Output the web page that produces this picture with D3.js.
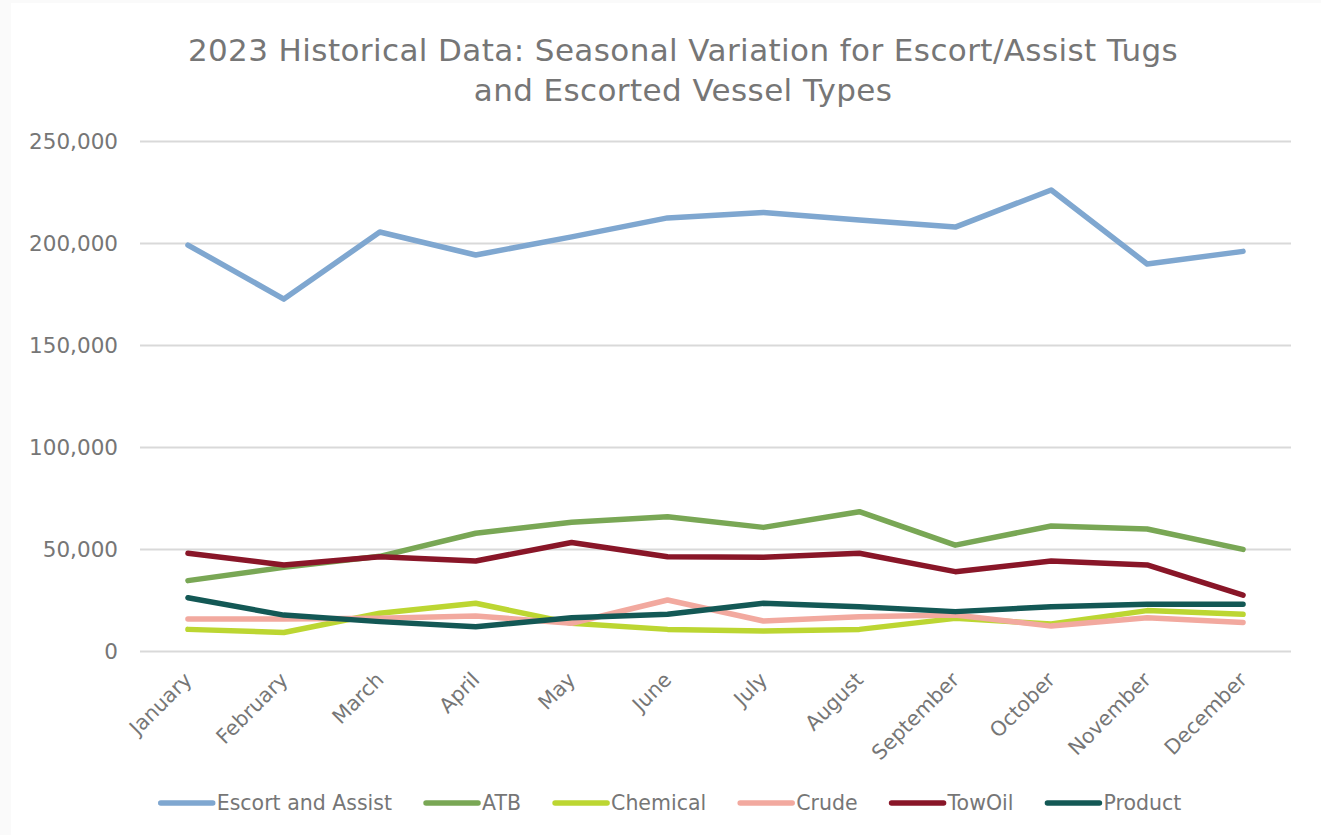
<!DOCTYPE html>
<html>
<head>
<meta charset="utf-8">
<script src="https://cdn.jsdelivr.net/npm/d3@7"></script>
<style>
  html, body { margin: 0; padding: 0; background: #fafafa; }
  svg { display: block; }
  text { font-family: "DejaVu Sans", sans-serif; fill: #767676; }
</style>
</head>
<body>
<svg id="chart" width="1321" height="835"></svg>
<script>
const months = ["January","February","March","April","May","June","July","August","September","October","November","December"];
const escortAssist = [199000,172500,205400,194100,203000,212300,215000,211300,207800,226000,189700,195900];
const atb          = [34500,41000,46400,57700,63100,65800,60600,68300,51900,61300,59800,49800];
const chemical     = [10600,9100,18500,23400,13600,10600,9800,10600,16000,13200,19800,18000];
const crude        = [15700,15700,16000,17200,13600,25000,14700,16800,17600,12200,16300,14000];
const towOil       = [47900,42200,46200,44100,53200,46200,45900,47900,38900,44100,42200,27400];
const product      = [26100,17600,14400,11900,16300,18000,23400,21700,19300,21700,22900,22900];
const yTicks = [0,50000,100000,150000,200000,250000];
const seriesNames = ["Escort and Assist","ATB","Chemical","Crude","TowOil","Product"];
const seriesValues = [escortAssist, atb, chemical, crude, towOil, product];
const seriesColors = ["#7FA7D0","#79A755","#BCD632","#F2A99F","#891628","#135855"];

const svg = d3.select("#chart");
svg.append("rect").attr("x", 11).attr("y", 3).attr("width", 1310).attr("height", 832).attr("fill", "#ffffff");

const x = d3.scaleBand().domain(months).range([140, 1291]);
const y = d3.scaleLinear().domain([0, 250000]).range([651, 141]);

// title
const title = svg.append("text").attr("text-anchor", "middle").style("font-size", "31px").style("letter-spacing", "0.4px");
title.append("tspan").attr("x", 683).attr("y", 61).text("2023 Historical Data: Seasonal Variation for Escort/Assist Tugs");
title.append("tspan").attr("x", 683).attr("y", 101).text("and Escorted Vessel Types");

// grid
const yAxis = d3.axisLeft(y).tickValues(yTicks).tickSize(-(1291 - 140)).tickFormat(d3.format(","));
const gy = svg.append("g").attr("transform", "translate(140,0)").call(yAxis);
gy.select(".domain").remove();
gy.selectAll(".tick line").attr("stroke", "#d9d9d9").attr("stroke-width", 2);
gy.selectAll(".tick text").attr("x", -22).attr("dy", "0.35em").style("font-size", "21.5px").attr("fill", "#767676");

// x axis labels
const xAxis = d3.axisBottom(x).tickSize(0);
const gx = svg.append("g").attr("transform", "translate(0,651)").call(xAxis);
gx.select(".domain").remove();
gx.selectAll(".tick text")
  .attr("text-anchor", "end")
  .attr("transform", "translate(0,25) rotate(-45)")
  .attr("dy", "0.35em").attr("y", 0).attr("x", 0)
  .style("font-size", "20.5px").attr("fill", "#767676");

// lines
const line = d3.line().x((d, i) => x(months[i]) + x.bandwidth() / 2).y(d => y(d));
seriesValues.forEach((vals, k) => {
  svg.append("path").datum(vals)
    .attr("d", line)
    .attr("fill", "none")
    .attr("stroke", seriesColors[k])
    .attr("stroke-width", 5.5)
    .attr("stroke-linecap", "round")
    .attr("stroke-linejoin", "round");
});

// legend
const legend = svg.append("g");
let cx = 0;
seriesNames.forEach((n, k) => {
  const g = legend.append("g");
  g.append("line").attr("x1", cx + 2).attr("x2", cx + 54).attr("y1", 0).attr("y2", 0)
    .attr("stroke", seriesColors[k]).attr("stroke-width", 5.5).attr("stroke-linecap", "round");
  const t = g.append("text").attr("x", cx + 58).attr("y", 0).attr("dy", "0.35em")
    .style("font-size", "20.5px").text(n);
  const w = t.node().getComputedTextLength();
  cx += 58 + w + 32;
});
const totalW = cx - 32;
legend.attr("transform", `translate(${670 - totalW / 2},803)`);
</script>
</body>
</html>
